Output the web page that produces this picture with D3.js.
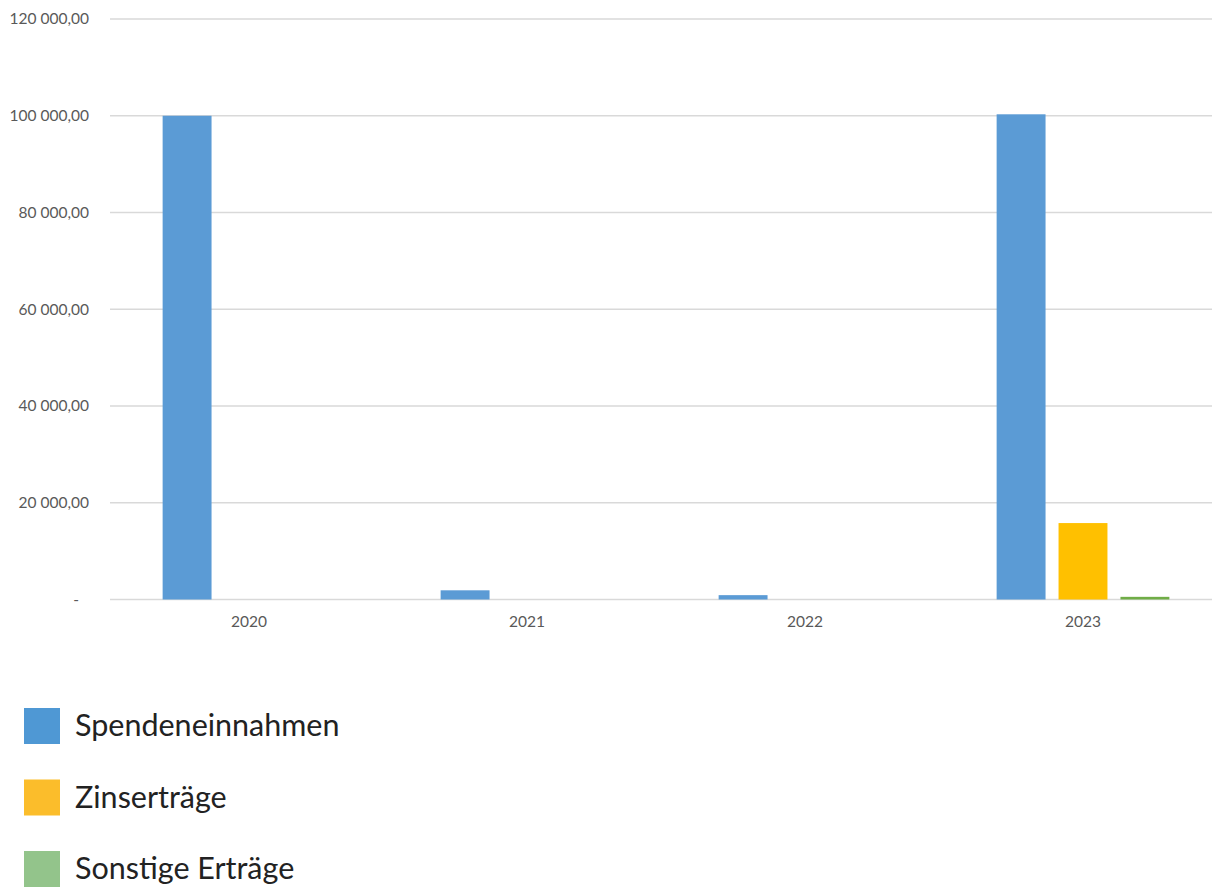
<!DOCTYPE html>
<html>
<head>
<meta charset="utf-8">
<script src="https://cdn.jsdelivr.net/npm/d3@7"></script>
<style>
  html, body { margin: 0; padding: 0; background: #ffffff; }
  svg { display: block; font-family: Lato, "Open Sans", sans-serif; }
</style>
</head>
<body>
<svg id="chart" width="1212" height="888"></svg>
<script>
// Income by year and source
const years = ["2020", "2021", "2022", "2023"];
const seriesNames = ["Spendeneinnahmen", "Zinserträge", "Sonstige Erträge"];
const spendeneinnahmen = [100000, 1900, 900, 100300];
const zinsertraege = [0, 0, 0, 15800];
const sonstigeErtraege = [0, 0, 0, 550];
const yTicks = [0, 20000, 40000, 60000, 80000, 100000, 120000];

const barColors = ["#5b9bd5", "#ffc000", "#70ad47"];
const legendColors = ["#4f98d4", "#fbbd2b", "#93c48b"];

const seriesValues = [spendeneinnahmen, zinsertraege, sonstigeErtraege];

const svg = d3.select("#chart");
const plot = { left: 110, right: 1222, top: 19, bottom: 599.5 };

const x = d3.scaleBand().domain(years).range([plot.left, plot.right]).padding(0);
const xInner = d3.scaleBand().domain(d3.range(seriesNames.length))
  .range([0, x.bandwidth()]).paddingInner(0.21).paddingOuter(0.85);
const y = d3.scaleLinear().domain([0, 120000]).range([plot.bottom, plot.top]);

const fmt = v => v === 0 ? "-" :
  d3.format(",.2f")(v).replace(/,/g, " ").replace(".", ",");

// Horizontal gridlines
svg.append("g")
  .selectAll("line")
  .data(yTicks)
  .join("line")
  .attr("x1", plot.left).attr("x2", plot.right)
  .attr("y1", d => y(d)).attr("y2", d => y(d))
  .attr("stroke", "#d9d9d9").attr("stroke-width", 1.3);

// Y axis labels
const yAxis = svg.append("g")
  .attr("transform", `translate(${plot.left - 21},0)`)
  .call(d3.axisLeft(y).tickValues(yTicks).tickFormat(fmt).tickSize(0).tickPadding(0));
yAxis.select(".domain").remove();
yAxis.selectAll("text")
  .attr("fill", "#595959").attr("font-size", 15.5)
  .attr("font-family", "Lato, 'Open Sans', sans-serif");
yAxis.selectAll(".tick").filter(d => d === 0).select("text").attr("dx", -10);

// Bars
const groups = svg.append("g")
  .selectAll("g")
  .data(years)
  .join("g")
  .attr("transform", d => `translate(${x(d)},0)`);

groups.selectAll("rect")
  .data((d, i) => seriesValues.map((vals, s) => ({ s, v: vals[i] })))
  .join("rect")
  .filter(d => d.v > 0)
  .attr("x", d => xInner(d.s))
  .attr("width", xInner.bandwidth())
  .attr("y", d => y(d.v))
  .attr("height", d => y(0) - y(d.v))
  .attr("fill", d => barColors[d.s]);

// X axis labels
const xAxis = svg.append("g")
  .attr("transform", `translate(0,${plot.bottom + 16})`)
  .call(d3.axisBottom(x).tickSize(0).tickPadding(0));
xAxis.select(".domain").remove();
xAxis.selectAll("text")
  .attr("fill", "#595959").attr("font-size", 15.5)
  .attr("font-family", "Lato, 'Open Sans', sans-serif");

// Legend
const legend = svg.append("g")
  .selectAll("g")
  .data(seriesNames)
  .join("g")
  .attr("transform", (d, i) => `translate(24,${708 + i * 71.5})`);

legend.append("rect")
  .attr("width", 36).attr("height", 36)
  .attr("fill", (d, i) => legendColors[i]);

legend.append("text")
  .attr("x", 51).attr("y", 28)
  .attr("font-size", 30.5)
  .attr("fill", "#222222")
  .text(d => d);
</script>
</body>
</html>
